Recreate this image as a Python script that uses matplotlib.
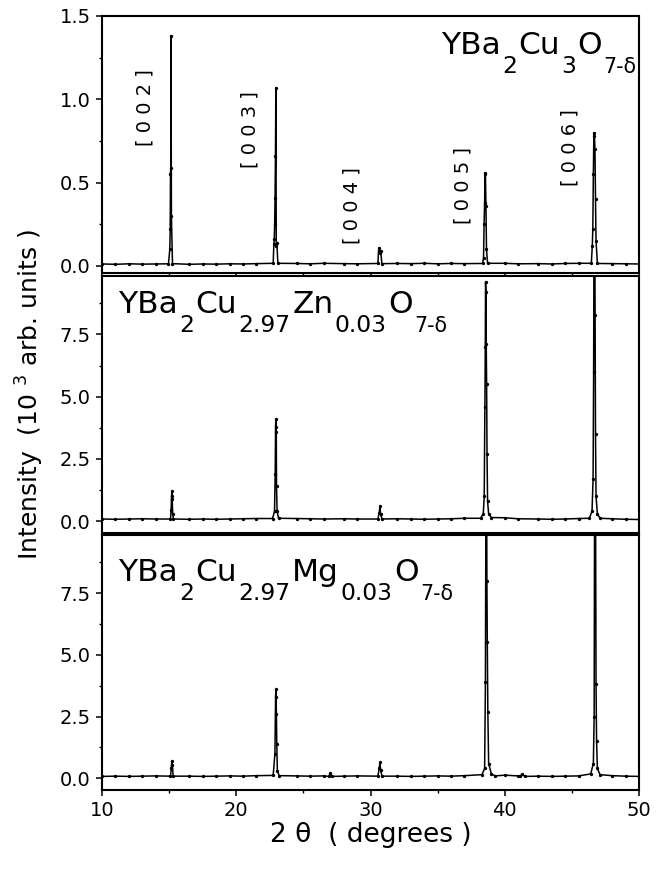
import matplotlib
matplotlib.use("Agg")
import matplotlib.pyplot as plt
from matplotlib.ticker import MultipleLocator, FormatStrFormatter
from matplotlib.transforms import offset_copy

plt.rcParams["font.family"] = ["DejaVu Sans"]
plt.rcParams["mathtext.fontset"] = "dejavusans"

# intensities in units of 10^3 counts
base_x = [10, 11, 12, 13, 14, 16.5, 17.5, 18.5, 19.5, 20.5, 21.5, 24.5, 25.5, 26.5,
          28, 29, 32, 33, 34, 35, 36, 37, 40, 41, 42.5, 43.5, 44.5, 45.5, 48, 49, 50]

top_base_y = [0.012, 0.010, 0.013, 0.011, 0.012, 0.010, 0.012, 0.011, 0.013, 0.012, 0.014,
              0.015, 0.013, 0.016, 0.014, 0.013, 0.015, 0.014, 0.016, 0.013, 0.015, 0.014,
              0.016, 0.013, 0.014, 0.012, 0.015, 0.016, 0.014, 0.013, 0.012]
top_peak_x = [14.95, 15.05, 15.08, 15.10, 15.12, 15.14, 15.17, 15.25,
              22.75, 22.80, 22.83, 22.86, 22.89, 22.92, 22.95, 22.98, 23.02, 23.10,
              30.55, 30.60, 30.65, 30.70, 30.75, 30.85,
              38.35, 38.42, 38.46, 38.50, 38.53, 38.56, 38.60, 38.64, 38.72,
              46.45, 46.52, 46.56, 46.60, 46.64, 46.68, 46.72, 46.76, 46.80, 46.90]
top_peak_y = [0.013, 0.10, 0.22, 0.55, 0.59, 1.38, 0.30, 0.014,
              0.016, 0.13, 0.16, 0.25, 0.41, 0.66, 1.07, 0.12, 0.14, 0.016,
              0.015, 0.09, 0.11, 0.08, 0.09, 0.014,
              0.015, 0.05, 0.25, 0.38, 0.56, 0.55, 0.36, 0.10, 0.016,
              0.016, 0.12, 0.22, 0.55, 0.80, 0.78, 0.70, 0.40, 0.15, 0.015]

mid_base_y = [0.09, 0.08, 0.09, 0.10, 0.09, 0.08, 0.09, 0.08, 0.09, 0.10, 0.11, 0.11, 0.10,
              0.09, 0.10, 0.09, 0.10, 0.09, 0.08, 0.09, 0.10, 0.12, 0.14, 0.10, 0.09, 0.08,
              0.09, 0.11, 0.10, 0.08, 0.07]
mid_peak_x = [15.10, 15.15, 15.18, 15.20, 15.23, 15.26, 15.32,
              22.70, 22.85, 22.90, 22.93, 22.95, 22.98, 23.00, 23.04, 23.15,
              30.55, 30.65, 30.70, 30.75, 30.85,
              38.20, 38.40, 38.47, 38.52, 38.55, 38.57, 38.60, 38.62, 38.65, 38.68, 38.72, 38.80, 39.00,
              46.30, 46.50, 46.58, 46.62, 46.66, 46.70, 46.73, 46.76, 46.80, 46.90, 47.10]
mid_peak_y = [0.09, 0.45, 1.00, 1.20, 0.90, 0.30, 0.09,
              0.11, 0.40, 1.90, 3.80, 4.10, 3.60, 1.40, 0.40, 0.12,
              0.09, 0.35, 0.60, 0.30, 0.09,
              0.12, 0.30, 1.00, 4.60, 7.00, 9.60, 9.20, 7.10, 5.50, 2.70, 0.80, 0.30, 0.15,
              0.12, 0.40, 1.70, 6.00, 14.0, 13.0, 8.30, 3.50, 1.00, 0.30, 0.12]

bot_base_y = [0.08, 0.09, 0.08, 0.09, 0.10, 0.09, 0.08, 0.09, 0.10, 0.09, 0.11, 0.10, 0.09,
              0.10, 0.09, 0.10, 0.09, 0.08, 0.09, 0.10, 0.09, 0.11, 0.13, 0.10, 0.09, 0.08,
              0.09, 0.10, 0.11, 0.09, 0.08]
bot_peak_x = [15.10, 15.16, 15.20, 15.24, 15.30,
              22.75, 22.88, 22.93, 22.96, 22.99, 23.02, 23.06, 23.20,
              26.90, 27.00, 27.10,
              30.55, 30.65, 30.70, 30.75, 30.85,
              38.30, 38.50, 38.56, 38.60, 38.64, 38.67, 38.70, 38.74, 38.80, 39.00, 39.30,
              41.10, 41.30, 41.50,
              46.40, 46.60, 46.66, 46.70, 46.74, 46.77, 46.80, 46.84, 46.90, 47.10]
bot_peak_y = [0.09, 0.40, 0.70, 0.55, 0.09,
              0.12, 1.00, 3.30, 3.60, 2.60, 1.40, 0.30, 0.11,
              0.08, 0.20, 0.08,
              0.09, 0.40, 0.65, 0.35, 0.09,
              0.15, 0.40, 3.90, 12.0, 15.0, 8.00, 5.50, 2.70, 0.60, 0.18, 0.10,
              0.08, 0.16, 0.08,
              0.18, 0.60, 2.50, 14.0, 16.0, 10.0, 3.80, 1.50, 0.40, 0.15]

hkl_labels = ["[ 0 0 2 ]", "[ 0 0 3 ]", "[ 0 0 4 ]", "[ 0 0 5 ]", "[ 0 0 6 ]"]
hkl_x = [13.2, 21.0, 28.6, 36.9, 44.85]
hkl_y = [0.95, 0.82, 0.36, 0.48, 0.71]

# formula pieces: (text, level) with 0 = normal, 1 = subscript, 2 = small subscript
name_top = [("YBa", 0), ("2", 1), ("Cu", 0), ("3", 1), ("O", 0), ("7-δ", 2)]
name_zn = [("YBa", 0), ("2", 1), ("Cu", 0), ("2.97", 1), ("Zn", 0), ("0.03", 1),
           ("O", 0), ("7-δ", 2)]
name_mg = [("YBa", 0), ("2", 1), ("Cu", 0), ("2.97", 1), ("Mg", 0), ("0.03", 1),
           ("O", 0), ("7-δ", 2)]


def merge(xb, yb, xp, yp):
    pts = sorted(zip(list(xb) + list(xp), list(yb) + list(yp)))
    return [p[0] for p in pts], [p[1] for p in pts]


def formula(ax, x, y, parts, ha="left", size=22.5):
    # Origin-style formula: deep subscripts placed piece by piece
    sizes = {0: size, 1: size * 0.75, 2: size * 0.66}
    drops = {0: 0, 1: -size * 0.6, 2: -size * 0.6}
    r = fig.canvas.get_renderer()
    placed = []
    dx = 0.0
    for s, lev in parts:
        tr = offset_copy(ax.transAxes, fig=fig, x=dx, y=drops[lev], units="points")
        t = ax.text(x, y, s, transform=tr, fontsize=sizes[lev], ha="left", va="baseline")
        placed.append((t, dx, drops[lev]))
        dx += t.get_window_extent(r).width * 72 / fig.dpi + 1.0
    if ha == "right":
        for t, ox, oy in placed:
            t.set_transform(offset_copy(ax.transAxes, fig=fig, x=ox - dx + 1.0, y=oy,
                                        units="points"))


fig = plt.figure(figsize=(6.65, 8.71), dpi=100)
rects = [[0.1534, 0.6866, 0.8075, 0.2951],
         [0.1534, 0.3881, 0.8075, 0.2951],
         [0.1534, 0.0930, 0.8075, 0.2928]]
axes = [fig.add_axes(r) for r in rects]

series = [merge(base_x, top_base_y, top_peak_x, top_peak_y),
          merge(base_x, mid_base_y, mid_peak_x, mid_peak_y),
          merge(base_x, bot_base_y, bot_peak_x, bot_peak_y)]

for i, ax in enumerate(axes):
    x, y = series[i]
    ax.plot(x, y, color="black", linewidth=1.1, marker="o", markersize=1.4)
    ax.set_xlim(10, 50)
    ax.xaxis.set_major_locator(MultipleLocator(10))
    ax.xaxis.set_minor_locator(MultipleLocator(5))
    ax.tick_params(which="major", direction="out", length=4.5, width=1.1, labelsize=14)
    ax.tick_params(which="minor", direction="out", length=2.5, width=1.0)
    for s in ax.spines.values():
        s.set_linewidth(1.5)
    if i < 2:
        ax.tick_params(axis="x", labelbottom=False)

axes[0].set_ylim(-0.042, 1.5)
axes[0].yaxis.set_major_locator(MultipleLocator(0.5))
axes[0].yaxis.set_minor_locator(MultipleLocator(0.25))
for ax in axes[1:]:
    ax.set_ylim(-0.47, 9.85)
    ax.yaxis.set_major_locator(MultipleLocator(2.5))
    ax.yaxis.set_minor_locator(MultipleLocator(1.25))
for ax in axes:
    ax.yaxis.set_major_formatter(FormatStrFormatter("%.1f"))

for lab, hx, hy in zip(hkl_labels, hkl_x, hkl_y):
    axes[0].text(hx, hy, lab, rotation=90, ha="center", va="center", fontsize=14)

formula(axes[0], 0.996, 0.85, name_top, ha="right")
formula(axes[1], 0.03, 0.855, name_zn)
formula(axes[2], 0.03, 0.82, name_mg)

fig.text(0.045, 0.5465, r"Intensity  (10 $^3$ arb. units )", rotation=90,
         ha="center", va="center", fontsize=18)
fig.text(0.557, 0.0413, "2 θ  ( degrees )", ha="center", va="center", fontsize=19)

fig.savefig("out.png", dpi=100, facecolor="white")
